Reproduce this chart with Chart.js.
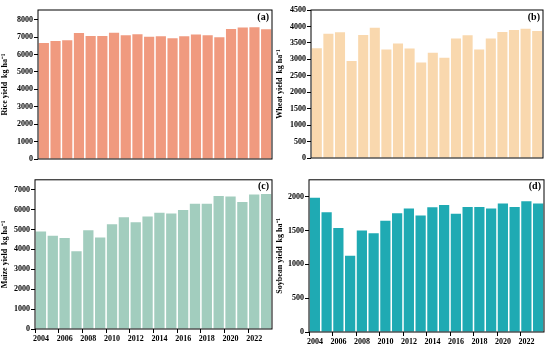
<!DOCTYPE html>
<html>
<head>
  <title>Crop yields 2004-2023</title>
  <script src="https://cdn.jsdelivr.net/npm/chart.js"></script>
  <style>
    body { margin: 0; background: #fff; }
    .panel { position: absolute; width: 275px; height: 174px; }
  </style>
</head>
<body>
  <div class="panel" style="left:0;top:0"><canvas id="chartA"></canvas></div>
  <div class="panel" style="left:275px;top:0"><canvas id="chartB"></canvas></div>
  <div class="panel" style="left:0;top:174px"><canvas id="chartC"></canvas></div>
  <div class="panel" style="left:275px;top:174px"><canvas id="chartD"></canvas></div>

  <script>
    const years = ['2004', '2005', '2006', '2007', '2008', '2009', '2010', '2011', '2012', '2013',
                   '2014', '2015', '2016', '2017', '2018', '2019', '2020', '2021', '2022', '2023'];

    const riceYield = [6660, 6775, 6810, 7230, 7060, 7060, 7250, 7100, 7160, 7020,
                       7040, 6930, 7040, 7140, 7100, 6990, 7460, 7540, 7560, 7450];
    const wheatYield = [3340, 3780, 3820, 2950, 3740, 3960, 3300, 3480, 3330, 2900,
                        3200, 3050, 3630, 3730, 3300, 3630, 3830, 3890, 3930, 3860];
    const maizeYield = [4900, 4690, 4570, 3910, 4960, 4600, 5270, 5620, 5370, 5660,
                        5840, 5800, 5980, 6290, 6290, 6690, 6660, 6390, 6760, 6780];
    const soybeanYield = [1985, 1772, 1539, 1126, 1500, 1461, 1646, 1757, 1825, 1724,
                          1843, 1876, 1748, 1848, 1848, 1824, 1900, 1848, 1933, 1900];

    // y tick labels per panel
    const riceTicks = [0, 1000, 2000, 3000, 4000, 5000, 6000, 7000, 8000];
    const wheatTicks = [0, 500, 1000, 1500, 2000, 2500, 3000, 3500, 4000, 4500];
    const maizeTicks = [0, 1000, 2000, 3000, 4000, 5000, 6000, 7000];
    const soybeanTicks = [0, 500, 1000, 1500, 2000];

    const serif = "'Liberation Serif', 'Times New Roman', serif";

    // frame around plot area + panel letter
    const framePlugin = {
      id: 'frame',
      afterDraw(chart, args, opts) {
        const a = chart.chartArea;
        const ctx = chart.ctx;
        ctx.save();
        ctx.strokeStyle = '#000';
        ctx.lineWidth = 1;
        ctx.strokeRect(a.left, a.top, a.right - a.left, a.bottom - a.top);
        ctx.fillStyle = '#000';
        ctx.font = 'bold 10px ' + serif;
        ctx.textAlign = 'right';
        ctx.textBaseline = 'middle';
        ctx.fillText(opts.letter, a.right - 3, a.top + 7);
        ctx.restore();
      }
    };

    function makeChart(id, cfg) {
      new Chart(document.getElementById(id), {
        type: 'bar',
        data: {
          labels: years,
          datasets: [{
            data: cfg.values,
            backgroundColor: cfg.color,
            borderWidth: 0,
            barPercentage: 0.87,
            categoryPercentage: 1
          }]
        },
        plugins: [framePlugin],
        options: {
          responsive: true,
          maintainAspectRatio: false,
          animation: false,
          layout: { padding: { top: cfg.padTop, right: cfg.padRight, left: 0, bottom: 0 } },
          plugins: {
            legend: { display: false },
            tooltip: { enabled: false },
            frame: { letter: cfg.letter }
          },
          scales: {
            x: {
              offset: true,
              border: { display: false },
              grid: {
                display: cfg.showYears,
                drawOnChartArea: false,
                drawTicks: true,
                tickLength: 4,
                color: ctx => ctx.index % 2 === 0 ? '#000' : 'rgba(0,0,0,0)'
              },
              ticks: {
                display: cfg.showYears,
                autoSkip: false,
                maxRotation: 0,
                padding: 1,
                color: '#000',
                font: { family: serif, size: 8, weight: 'bold' },
                callback: function (v, i) { return i % 2 === 0 ? years[i] : ''; }
              },
              afterFit: s => { s.height = cfg.xHeight; }
            },
            y: {
              min: 0,
              max: cfg.max,
              border: { display: false },
              grid: { drawOnChartArea: false, drawTicks: true, tickLength: 4, color: '#000' },
              ticks: {
                autoSkip: false,
                padding: 1,
                color: '#000',
                font: { family: serif, size: 8, weight: 'bold' },
                callback: v => String(v)
              },
              afterBuildTicks: s => { s.ticks = cfg.ticks.map(v => ({ value: v })); },
              title: {
                display: true,
                text: cfg.title,
                color: '#000',
                padding: { top: 0, bottom: 2 },
                font: { family: serif, size: 8, weight: 'bold' }
              },
              afterFit: s => { s.width = cfg.yWidth; }
            }
          }
        }
      });
    }

    makeChart('chartA', {
      values: riceYield, ticks: riceTicks, color: '#F09A7F', letter: '(a)', title: 'Rice yield  kg ha\u207B\u00B9',
      max: 8550, padTop: 10, padRight: 3, yWidth: 38, xHeight: 15, showYears: false
    });
    makeChart('chartB', {
      values: wheatYield, ticks: wheatTicks, color: '#F9D8AE', letter: '(b)', title: 'Wheat yield  kg ha\u207B\u00B9',
      max: 4500, padTop: 10, padRight: 7, yWidth: 36, xHeight: 16, showYears: false
    });
    makeChart('chartC', {
      values: maizeYield, ticks: maizeTicks, color: '#A2CDBE', letter: '(c)', title: 'Maize yield  kg ha\u207B\u00B9',
      max: 7500, padTop: 1, padRight: 3, yWidth: 35, xHeight: 19, showYears: true
    });
    makeChart('chartD', {
      values: soybeanYield, ticks: soybeanTicks, color: '#1FAAB3', letter: '(d)', title: 'Soybean yield  kg ha\u207B\u00B9',
      max: 2250, padTop: 1, padRight: 6, yWidth: 34, xHeight: 16, showYears: true
    });
  </script>
</body>
</html>
